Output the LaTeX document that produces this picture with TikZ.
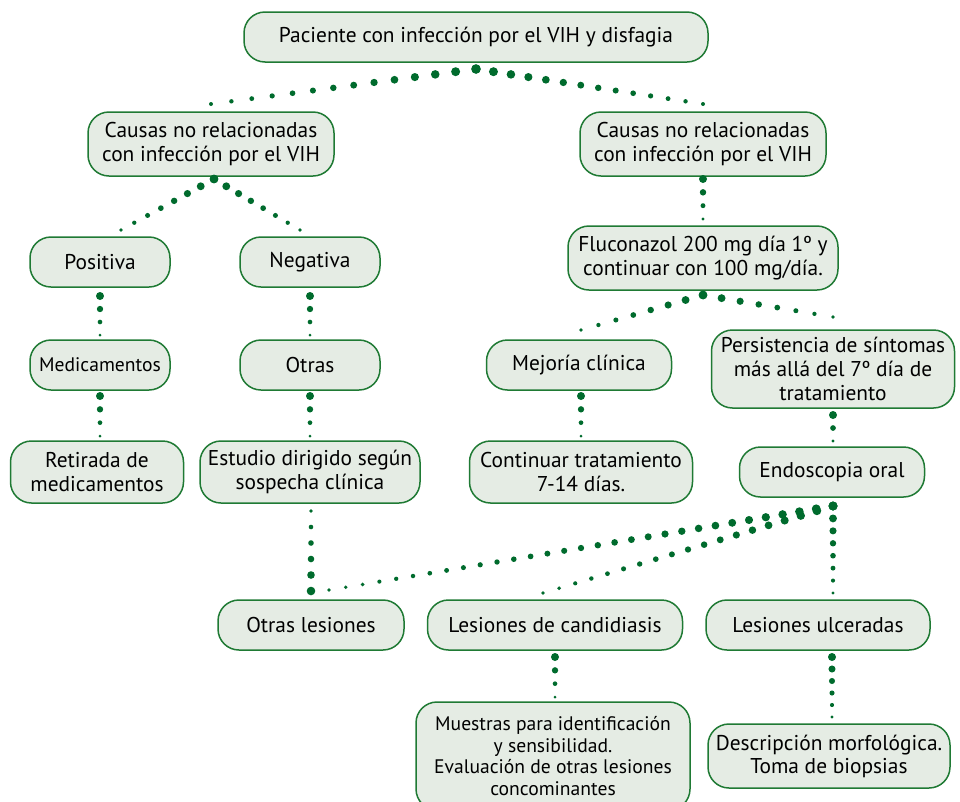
\documentclass[tikz,border=0pt]{standalone}
\usepackage{fontspec}
\setmainfont{PT Sans}
\usetikzlibrary{calc}
\definecolor{bdr}{HTML}{1F7A34}
\definecolor{boxfill}{HTML}{E5ECE4}
\definecolor{dotc}{HTML}{006B2D}
\newcommand{\taper}[5]{%
  \pgfmathtruncatemacro{\tpn}{#3-1}%
  \foreach \k in {0,...,\tpn}{%
    \pgfmathsetmacro{\tpt}{\k/\tpn}%
    \pgfmathsetmacro{\tpr}{#4+(#5-#4)*\tpt}%
    \fill[dotc] ($(#1)!\tpt!(#2)$) circle[radius=\tpr pt];
  }}
\begin{document}
\begin{tikzpicture}[x=1pt,y=-1pt,
  box/.style={draw=bdr, fill=boxfill, line width=1.5pt, rounded corners=21pt,
    align=center, inner sep=0pt, font=\fontsize{21.4}{24}\selectfont},
  smallbox/.style={box, font=\fontsize{19.6}{22}\selectfont}]
\useasboundingbox (0,0) rectangle (960,801);
\clip (0,0) rectangle (960,801);
% nodes
\node[box, minimum width=464pt, minimum height=50pt] (root) at (476,37) {Paciente con infección por el VIH y disfagia};
\node[box, minimum width=246pt, minimum height=64pt] (causasL) at (211,144) {Causas no relacionadas\\con infección por el VIH};
\node[box, minimum width=246pt, minimum height=64pt] (causasR) at (703,144) {Causas no relacionadas\\con infección por el VIH};
\node[box, minimum width=270pt, minimum height=64pt] (fluco) at (703,258) {Fluconazol 200 mg día 1º y\\continuar con 100 mg/día.};
\node[box, minimum width=140pt, minimum height=50pt] (posit) at (100,262) {Positiva};
\node[box, minimum width=140pt, minimum height=50pt] (negat) at (310,262) {Negativa};
\node[smallbox, minimum width=140pt, minimum height=50pt] (medic) at (100,365) {Medicamentos};
\node[box, minimum width=140pt, minimum height=50pt] (otras) at (310,365) {Otras};
\node[box, minimum width=173pt, minimum height=62pt] (retir) at (97,472) {Retirada de\\medicamentos};
\node[box, minimum width=220pt, minimum height=62pt] (estud) at (310,472) {Estudio dirigido según\\sospecha clínica};
\node[box, minimum width=185pt, minimum height=50pt] (mejor) at (579,365) {Mejoría clínica};
\node[box, minimum width=243pt, minimum height=78pt] (persi) at (833,369) {Persistencia de síntomas\\más allá del 7º día de\\tratamiento};
\node[box, minimum width=223pt, minimum height=62pt] (conti) at (581,472) {Continuar tratamiento\\7-14 días.};
\node[box, minimum width=185pt, minimum height=50pt] (endos) at (832,472) {Endoscopia oral};
\node[box, minimum width=186pt, minimum height=50pt] (otrasL) at (311,625) {Otras lesiones};
\node[box, minimum width=255pt, minimum height=50pt] (candi) at (555,625) {Lesiones de candidiasis};
\node[box, minimum width=224pt, minimum height=50pt] (ulcer) at (818,625) {Lesiones ulceradas};
\node[smallbox, minimum width=274pt, minimum height=108pt, font=\fontsize{19.6}{21.7}\selectfont] (muest) at (553,756) {Muestras para identificación\\y sensibilidad.\\Evaluación de otras lesiones\\concominantes};
\node[box, minimum width=242pt, minimum height=64pt, font=\fontsize{21.4}{23}\selectfont] (descr) at (829,756) {Descripción morfológica.\\Toma de biopsias};
% connector end points
\coordinate (rootA) at (476,69);
\coordinate (cLend) at (211,104);
\coordinate (cRend) at (703,104);
\coordinate (cLA) at (214,179);
\coordinate (posE) at (121,230);
\coordinate (negE) at (300,230);
\coordinate (cRA) at (703,179);
\coordinate (flE) at (703,219);
\coordinate (flA) at (703,295);
\coordinate (mejE) at (581,330);
\coordinate (perE) at (833,317);
\coordinate (posA) at (100,296);
\coordinate (medE) at (100,335);
\coordinate (medA) at (100,396);
\coordinate (retE) at (100,436);
\coordinate (negA) at (310,296);
\coordinate (otrE) at (310,335);
\coordinate (otrA) at (310,396);
\coordinate (estE) at (310,436);
\coordinate (mejA) at (581,396);
\coordinate (conE) at (581,436);
\coordinate (perA) at (833,415);
\coordinate (endE) at (833,441);
\coordinate (endA) at (833,506);
\coordinate (olE) at (329,590);
\coordinate (caE) at (543,593);
\coordinate (ulE) at (833,593);
\coordinate (olA) at (311,591);
\coordinate (estB) at (311,511);
\coordinate (caA) at (555,657);
\coordinate (muE) at (555,697);
\coordinate (ulA) at (832,657);
\coordinate (deE) at (832,717);
% tapered dotted connectors (big end first)
\taper{rootA}{cLend}{14}{4.7}{2}
\taper{rootA}{cRend}{14}{4.7}{2}
\taper{cLA}{posE}{8}{4.3}{1.8}
\taper{cLA}{negE}{8}{4.3}{1.8}
\taper{cRA}{flE}{4}{4}{1.7}
\taper{flA}{mejE}{8}{4.3}{1.8}
\taper{flA}{perE}{8}{4.3}{1.8}
\taper{posA}{medE}{4}{4}{1.5}
\taper{medA}{retE}{4}{4}{1.5}
\taper{negA}{otrE}{4}{4}{1.5}
\taper{otrA}{estE}{4}{4}{1.5}
\taper{mejA}{conE}{4}{4}{1.5}
\taper{perA}{endE}{3}{4}{1.7}
\taper{endA}{olE}{31}{4.5}{1.8}
\taper{endA}{caE}{19}{4.5}{1.8}
\taper{endA}{ulE}{8}{4.3}{1.7}
\taper{olA}{estB}{6}{4.3}{1.8}
\taper{caA}{muE}{4}{4}{1.5}
\taper{ulA}{deE}{6}{4}{1.6}
\end{tikzpicture}
\end{document}
